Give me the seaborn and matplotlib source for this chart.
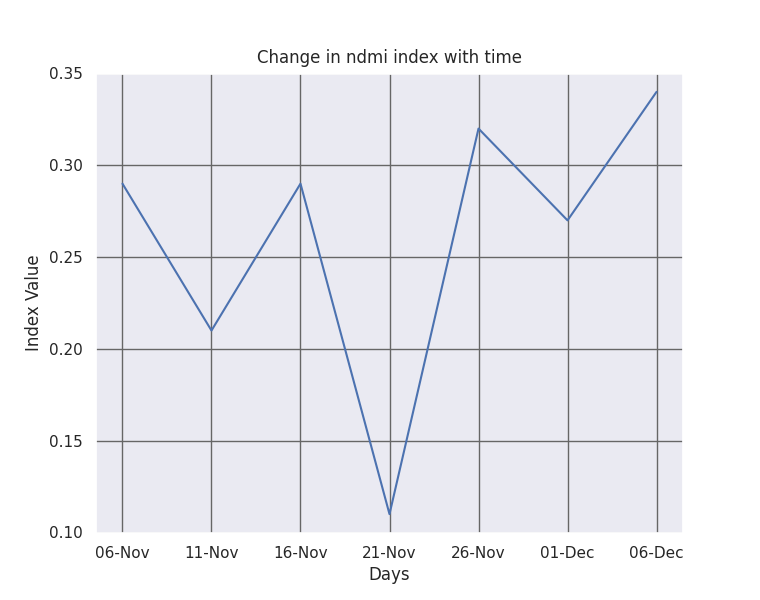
import matplotlib
matplotlib.use("Agg")
import matplotlib.pyplot as plt
import seaborn as sns
import pandas as pd

days = ["06-Nov", "11-Nov", "16-Nov", "21-Nov", "26-Nov", "01-Dec", "06-Dec"]
ndmi = [0.29, 0.21, 0.29, 0.11, 0.32, 0.27, 0.34]

sns.set_theme(style="darkgrid", rc={"grid.color": "#666666", "grid.linewidth": 1.0})

df = pd.DataFrame({"Days": days, "Index Value": ndmi})
fig, ax = plt.subplots(figsize=(7.6, 6), dpi=100)
fig.subplots_adjust(left=0.126, right=0.899, top=0.8775, bottom=0.1125)
sns.lineplot(data=df, x="Days", y="Index Value", sort=False, ax=ax, color="#4c72b0")
ax.set_ylim(0.10, 0.35)
ax.set_title("Change in ndmi index with time", pad=7.5)
fig.savefig("out.png", dpi=100)
